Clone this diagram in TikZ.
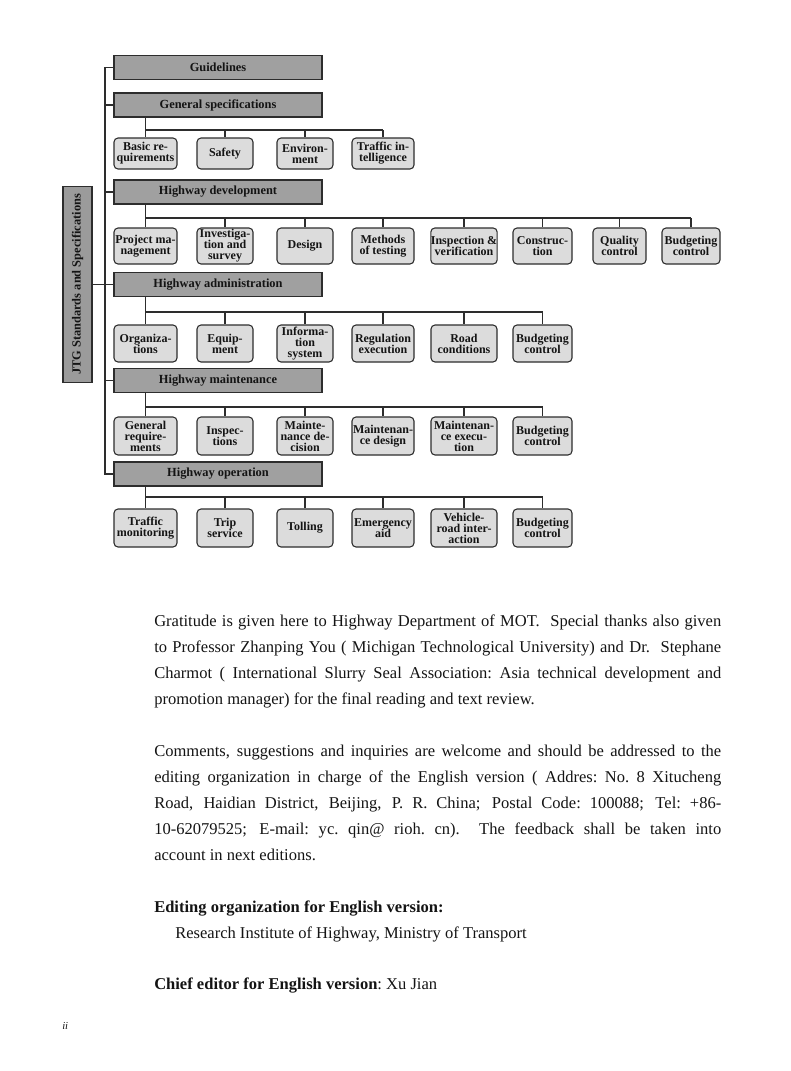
\documentclass[tikz,border=0pt]{standalone}
\usepackage{fontspec}
\setmainfont{Liberation Serif}
\lineskiplimit=-5pt
\definecolor{linec}{RGB}{45,45,45}
\definecolor{hdrc}{RGB}{160,160,160}
\definecolor{leafc}{RGB}{220,220,220}
\definecolor{jtgc}{RGB}{155,155,155}
\definecolor{inkc}{RGB}{20,20,20}
\begin{document}
\begin{tikzpicture}[x=0.75pt,y=-0.75pt,
  line/.style={draw=linec, line width=0.8pt},
  hdr/.style={draw=linec, line width=0.8pt, fill=hdrc, text=inkc, minimum width=208*0.75pt, minimum height=24*0.75pt, inner sep=0pt, font=\fontsize{9.3}{9}\selectfont\bfseries},
  jtg/.style={draw=linec, line width=0.8pt, fill=jtgc, text=inkc, rotate=90, minimum width=196*0.75pt, minimum height=29*0.75pt, inner sep=0pt, font=\fontsize{9.3}{9}\selectfont\bfseries},
  leaf/.style={draw=linec, line width=0.8pt, fill=leafc, text=inkc, rounded corners=3pt, inner sep=0pt, align=center, font=\fontsize{9}{8.2}\selectfont\bfseries},
  col1/.style={leaf, minimum width=63*0.75pt},
  col2/.style={leaf, minimum width=56*0.75pt},
  col3/.style={leaf, minimum width=56*0.75pt},
  col4/.style={leaf, minimum width=62*0.75pt},
  col5/.style={leaf, minimum width=66*0.75pt},
  col6/.style={leaf, minimum width=59*0.75pt},
  col7/.style={leaf, minimum width=53*0.75pt},
  col8/.style={leaf, minimum width=58*0.75pt},
  rowa/.style={minimum height=31*0.75pt},
  rowb/.style={minimum height=36*0.75pt},
  rowc/.style={minimum height=37*0.75pt},
  rowd/.style={minimum height=38*0.75pt},
  body/.style={text=inkc, text width=567*0.75pt, inner sep=0pt, align=justify, font=\fontsize{12.4}{19.6}\selectfont},
  plain/.style={text=inkc, inner sep=0pt, font=\fontsize{12.4}{14}\selectfont},
]
\fill[white] (0,0) rectangle (790,1071);
\useasboundingbox (0,0) rectangle (790,1071);

% headers
\node[hdr] (g)  at (218,67.5)  {Guidelines};
\node[hdr] (gs) at (218,105)   {General specifications};
\node[hdr] (hd) at (218,192)   {Highway development};
\node[hdr] (ha) at (218,284.5) {Highway administration};
\node[hdr] (hm) at (218,380.5) {Highway maintenance};
\node[hdr] (ho) at (218,474)   {Highway operation};
\node[jtg] (j)  at (77.5,284.5) {JTG Standards and Specifications};

% spine
\coordinate (sp) at (105,0);
\draw[line] (g.west) -| (ho.west -| sp) -- (ho.west);
\foreach \h in {gs,hd,hm} \draw[line] (\h.west) -- (\h.west -| sp);
\draw[line] (j.south) -- (ha.west);

% row 1: general specifications
\node[col1,rowa] (a1) at (145.5,153.5) {Basic re-\\quirements};
\node[col2,rowa] (a2) at (225,153.5) {Safety};
\node[col3,rowa] (a3) at (305,153.5) {Environ-\\ment};
\node[col4,rowa] (a4) at (383,153.5) {Traffic in-\\telligence};
\coordinate (ba) at (0,130);
\draw[line] (gs.south -| a1.north) -- (a1.north);
\draw[line] (a1.north |- ba) -- (a4.north |- ba);
\foreach \c in {2,3,4} \draw[line] (a\c.north |- ba) -- (a\c.north);

% row 2: highway development
\node[col1,rowb] (b1) at (145.5,246) {Project ma-\\nagement};
\node[col2,rowb] (b2) at (225,246) {Investiga-\\tion and\\survey};
\node[col3,rowb] (b3) at (305,246) {Design};
\node[col4,rowb] (b4) at (383,246) {Methods\\of testing};
\node[col5,rowb] (b5) at (464,246) {Inspection \&\\verification};
\node[col6,rowb] (b6) at (542.5,246) {Construc-\\tion};
\node[col7,rowb] (b7) at (619.5,246) {Quality\\control};
\node[col8,rowb] (b8) at (691,246) {Budgeting\\control};
\coordinate (bb) at (0,218);
\draw[line] (hd.south -| b1.north) -- (b1.north);
\draw[line] (b1.north |- bb) -- (b8.north |- bb);
\foreach \c in {2,...,8} \draw[line] (b\c.north |- bb) -- (b\c.north);

% row 3: highway administration
\node[col1,rowc] (c1) at (145.5,343.5) {Organiza-\\tions};
\node[col2,rowc] (c2) at (225,343.5) {Equip-\\ment};
\node[col3,rowc] (c3) at (305,343.5) {Informa-\\tion\\system};
\node[col4,rowc] (c4) at (383,343.5) {Regulation\\execution};
\node[col5,rowc] (c5) at (464,343.5) {Road\\conditions};
\node[col6,rowc] (c6) at (542.5,343.5) {Budgeting\\control};
\coordinate (bc) at (0,312);
\draw[line] (ha.south -| c1.north) -- (c1.north);
\draw[line] (c1.north |- bc) -- (c6.north |- bc);
\foreach \c in {2,...,6} \draw[line] (c\c.north |- bc) -- (c\c.north);

% row 4: highway maintenance
\node[col1,rowd] (d1) at (145.5,436) {General\\require-\\ments};
\node[col2,rowd] (d2) at (225,436) {Inspec-\\tions};
\node[col3,rowd] (d3) at (305,436) {Mainte-\\nance de-\\cision};
\node[col4,rowd] (d4) at (383,436) {Maintenan-\\ce design};
\node[col5,rowd] (d5) at (464,436) {Maintenan-\\ce execu-\\tion};
\node[col6,rowd] (d6) at (542.5,436) {Budgeting\\control};
\coordinate (bd) at (0,407);
\draw[line] (hm.south -| d1.north) -- (d1.north);
\draw[line] (d1.north |- bd) -- (d6.north |- bd);
\foreach \c in {2,...,6} \draw[line] (d\c.north |- bd) -- (d\c.north);

% row 5: highway operation
\node[col1,rowd] (e1) at (145.5,528) {Traffic\\monitoring};
\node[col2,rowd] (e2) at (225,528) {Trip\\service};
\node[col3,rowd] (e3) at (305,528) {Tolling};
\node[col4,rowd] (e4) at (383,528) {Emergency\\aid};
\node[col5,rowd] (e5) at (464,528) {Vehicle-\\road inter-\\action};
\node[col6,rowd] (e6) at (542.5,528) {Budgeting\\control};
\coordinate (be) at (0,497);
\draw[line] (ho.south -| e1.north) -- (e1.north);
\draw[line] (e1.north |- be) -- (e6.north |- be);
\foreach \c in {2,...,6} \draw[line] (e\c.north |- be) -- (e\c.north);

% body text
\node[body, anchor=base west] (p1) at (154,626) {Gratitude is given here to Highway Department of MOT.\ \ Special thanks also given\linebreak to Professor Zhanping You ( Michigan Technological University) and Dr.\ \ Stephane\linebreak Charmot ( International Slurry Seal Association:\ Asia technical development and\linebreak promotion manager) for the final reading and text review.};
\node[body, anchor=base west] (p2) at (154,756) {Comments, suggestions and inquiries are welcome and should be addressed to the\linebreak editing organization in charge of the English version ( Addres:\ No.\ 8 Xitucheng\linebreak Road, Haidian District, Beijing, P.\ R.\ China; Postal Code:\ 100088; Tel:\ +86-\linebreak 10-62079525; E-mail:\ yc.\ qin@ rioh.\ cn).\ \ The feedback shall be taken into\linebreak account in next editions.};
\node[plain, anchor=base west, font=\fontsize{12.4}{14}\selectfont\bfseries] (t1) at (154,912) {Editing organization for English version:};
\node[plain, anchor=base west] (t2) at (175,938) {Research Institute of Highway, Ministry of Transport};
\node[plain, anchor=base west] (t3) at (154,989) {\bfseries Chief editor for English version\mdseries:\ Xu Jian};
\node[plain, anchor=base west, font=\fontsize{8}{9}\selectfont\itshape] (pg) at (62,1029) {ii};
\end{tikzpicture}
\end{document}
